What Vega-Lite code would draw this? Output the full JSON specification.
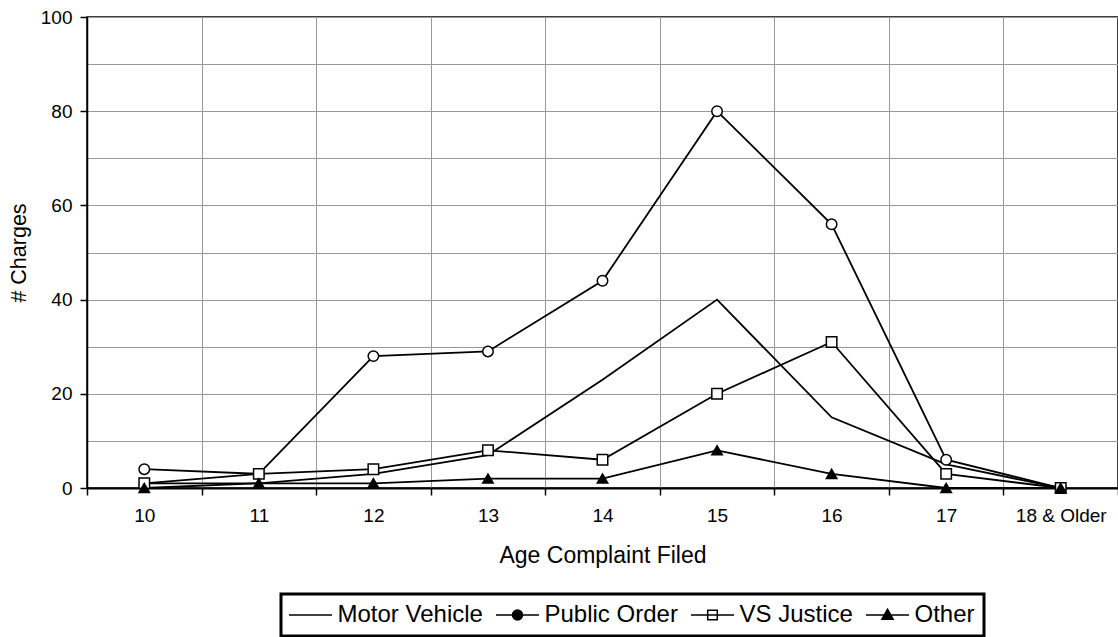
{
  "$schema": "https://vega.github.io/schema/vega-lite/v6.json",
  "width": 1031,
  "height": 471,
  "autosize": {"type": "none"},
  "padding": {"left": 87, "top": 17, "right": 0, "bottom": 149},
  "background": "white",
  "config": {
    "font": "Liberation Sans",
    "view": {"stroke": "black", "strokeWidth": 1.5},
    "legend": {"strokeWidth": 3}
  },
  "data": {
    "values": [
      {"series": "Motor Vehicle", "age": "10", "count": 1},
      {"series": "Motor Vehicle", "age": "11", "count": 1},
      {"series": "Motor Vehicle", "age": "12", "count": 3},
      {"series": "Motor Vehicle", "age": "13", "count": 7},
      {"series": "Motor Vehicle", "age": "14", "count": 23},
      {"series": "Motor Vehicle", "age": "15", "count": 40},
      {"series": "Motor Vehicle", "age": "16", "count": 15},
      {"series": "Motor Vehicle", "age": "17", "count": 5},
      {"series": "Motor Vehicle", "age": "18 & Older", "count": 0},
      {"series": "Public Order", "age": "10", "count": 4},
      {"series": "Public Order", "age": "11", "count": 3},
      {"series": "Public Order", "age": "12", "count": 28},
      {"series": "Public Order", "age": "13", "count": 29},
      {"series": "Public Order", "age": "14", "count": 44},
      {"series": "Public Order", "age": "15", "count": 80},
      {"series": "Public Order", "age": "16", "count": 56},
      {"series": "Public Order", "age": "17", "count": 6},
      {"series": "Public Order", "age": "18 & Older", "count": 0},
      {"series": "VS Justice", "age": "10", "count": 1},
      {"series": "VS Justice", "age": "11", "count": 3},
      {"series": "VS Justice", "age": "12", "count": 4},
      {"series": "VS Justice", "age": "13", "count": 8},
      {"series": "VS Justice", "age": "14", "count": 6},
      {"series": "VS Justice", "age": "15", "count": 20},
      {"series": "VS Justice", "age": "16", "count": 31},
      {"series": "VS Justice", "age": "17", "count": 3},
      {"series": "VS Justice", "age": "18 & Older", "count": 0},
      {"series": "Other", "age": "10", "count": 0},
      {"series": "Other", "age": "11", "count": 1},
      {"series": "Other", "age": "12", "count": 1},
      {"series": "Other", "age": "13", "count": 2},
      {"series": "Other", "age": "14", "count": 2},
      {"series": "Other", "age": "15", "count": 8},
      {"series": "Other", "age": "16", "count": 3},
      {"series": "Other", "age": "17", "count": 0},
      {"series": "Other", "age": "18 & Older", "count": 0}
    ]
  },
  "encoding": {
    "x": {
      "field": "age",
      "type": "nominal",
      "sort": ["10", "11", "12", "13", "14", "15", "16", "17", "18 & Older"],
      "scale": {"paddingInner": 0, "paddingOuter": 0},
      "axis": {
        "title": "Age Complaint Filed",
        "tickBand": "extent",
        "labelAngle": 0,
        "tickSize": 7,
        "tickColor": "black",
        "tickWidth": 1.5,
        "labelPadding": 11,
        "labelFontSize": 19,
        "labelColor": "black",
        "domainColor": "black",
        "domainWidth": 2,
        "grid": true,
        "gridColor": "#999999",
        "gridWidth": 1,
        "gridOpacity": 1,
        "titleFontSize": 23,
        "titleFontWeight": "normal",
        "titleColor": "black",
        "titlePadding": 19
      }
    },
    "y": {
      "field": "count",
      "type": "quantitative",
      "scale": {"domain": [0, 100], "nice": false},
      "axis": {
        "title": "# Charges",
        "values": [0, 10, 20, 30, 40, 50, 60, 70, 80, 90, 100],
        "labelExpr": "datum.value % 20 === 0 ? datum.label : ''",
        "tickColor": {"condition": {"test": "datum.value % 20 === 0", "value": "black"}, "value": "transparent"},
        "tickSize": 7,
        "tickWidth": 1.5,
        "labelPadding": 8,
        "labelFontSize": 19,
        "labelColor": "black",
        "domainColor": "black",
        "domainWidth": 1.5,
        "gridColor": "#999999",
        "gridWidth": 1,
        "gridOpacity": 1,
        "titleFontSize": 21.5,
        "titleFontWeight": "normal",
        "titleColor": "black",
        "titlePadding": 10
      }
    }
  },
  "layer": [
    {
      "mark": {"type": "line", "color": "black", "strokeWidth": 1.8},
      "encoding": {"detail": {"field": "series"}}
    },
    {
      "mark": {"type": "point", "filled": true, "opacity": 0, "size": 64, "strokeWidth": 1.5},
      "encoding": {
        "shape": {
          "field": "series",
          "scale": {
            "domain": ["Motor Vehicle", "Public Order", "VS Justice", "Other"],
            "range": [
              "M-5.375,0H5.375",
              "M-5.375,0H5.375M1.25,0C1.25,0.69,0.69,1.25,0,1.25C-0.69,1.25,-1.25,0.69,-1.25,0C-1.25,-0.69,-0.69,-1.25,0,-1.25C0.69,-1.25,1.25,-0.69,1.25,0Z",
              "M-5.375,0H5.375M-1.2,-1.2H1.2V1.2H-1.2Z",
              "M-5.375,0H5.375M0,-1.45L1.4,1.05H-1.4Z"
            ]
          },
          "legend": {
            "title": null,
            "orient": "none",
            "legendX": 194,
            "legendY": 577,
            "direction": "horizontal",
            "strokeColor": "black",
            "fillColor": "white",
            "padding": 9,
            "labelFontSize": 24,
            "labelColor": "black",
            "labelLimit": 400,
            "symbolSize": 64,
            "symbolStrokeWidth": 1.5,
            "symbolOpacity": 1,
            "symbolOffset": 8.5,
            "labelOffset": 15,
            "columnPadding": 10
          }
        },
        "fill": {
          "field": "series",
          "scale": {
            "domain": ["Motor Vehicle", "Public Order", "VS Justice", "Other"],
            "range": ["black", "black", "white", "black"]
          },
          "legend": {
            "title": null,
            "orient": "none",
            "legendX": 194,
            "legendY": 577,
            "direction": "horizontal",
            "strokeColor": "black",
            "fillColor": "white",
            "padding": 9,
            "labelFontSize": 24,
            "labelColor": "black",
            "labelLimit": 400,
            "symbolSize": 64,
            "symbolStrokeWidth": 1.5,
            "symbolOpacity": 1,
            "symbolOffset": 8.5,
            "labelOffset": 15,
            "columnPadding": 10
          }
        },
        "stroke": {
          "field": "series",
          "scale": {
            "domain": ["Motor Vehicle", "Public Order", "VS Justice", "Other"],
            "range": ["black", "black", "black", "black"]
          },
          "legend": {
            "title": null,
            "orient": "none",
            "legendX": 194,
            "legendY": 577,
            "direction": "horizontal",
            "strokeColor": "black",
            "fillColor": "white",
            "padding": 9,
            "labelFontSize": 24,
            "labelColor": "black",
            "labelLimit": 400,
            "symbolSize": 64,
            "symbolStrokeWidth": 1.5,
            "symbolOpacity": 1,
            "symbolOffset": 8.5,
            "labelOffset": 15,
            "columnPadding": 10
          }
        }
      }
    },
    {
      "transform": [{"filter": "datum.series === 'Public Order'"}],
      "mark": {"type": "point", "shape": "circle", "filled": true, "fill": "white", "size": 110, "stroke": "black", "strokeWidth": 1.5, "opacity": 1}
    },
    {
      "transform": [{"filter": "datum.series === 'VS Justice'"}],
      "mark": {"type": "point", "shape": "square", "filled": true, "fill": "white", "size": 110, "stroke": "black", "strokeWidth": 1.5, "opacity": 1}
    },
    {
      "transform": [{"filter": "datum.series === 'Other'"}],
      "mark": {"type": "point", "shape": "triangle-up", "filled": true, "fill": "black", "size": 110, "stroke": "black", "strokeWidth": 1.5, "opacity": 1}
    }
  ]
}
